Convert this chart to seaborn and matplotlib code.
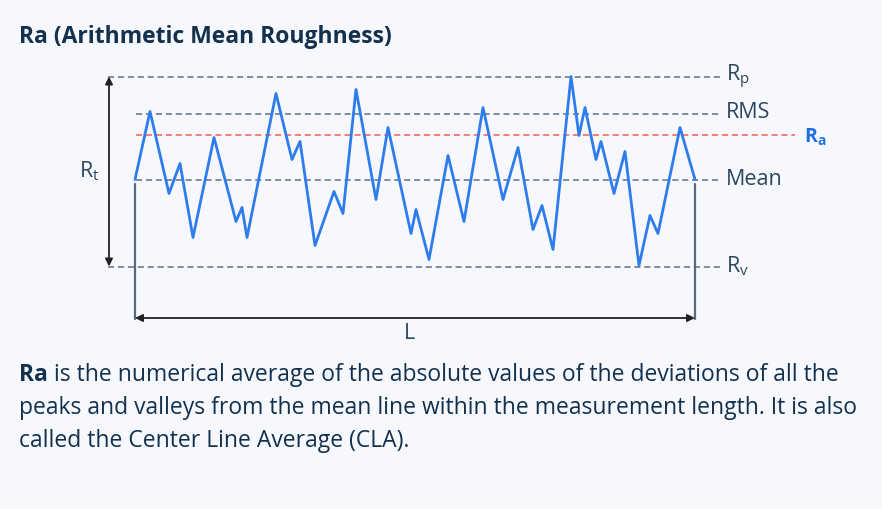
import matplotlib as mpl
mpl.use('Agg')
import matplotlib.pyplot as plt
import seaborn as sns

# surface profile: distance along the measurement length / height from the mean line
dist = [0, 15, 34, 45, 58, 79, 101, 107, 112, 141, 157, 165, 180, 199, 208,
        221, 241, 253, 276, 281, 294, 313, 329, 348, 368, 383, 398, 407, 418,
        436, 444, 450, 461, 466, 479, 490, 504, 515, 523, 545, 560]
height = [0, 68, -14, 16, -58, 42, -42, -28, -58, 86, 20, 38, -66, -12, -34,
          90, -20, 52, -54, -30, -80, 24, -42, 72, -20, 32, -50, -26, -70,
          103, 44, 72, 20, 38, -14, 28, -86, -36, -54, 52, 0]

level_rp = 103
level_rms = 66
level_ra = 45
level_mean = 0
level_rv = -87

title = 'Ra (Arithmetic Mean Roughness)'
body_bold = 'Ra'
body_lines = [' is the numerical average of the absolute values of the deviations of all the',
              'peaks and valleys from the mean line within the measurement length. It is also',
              'called the Center Line Average (CLA).']

bg = '#f6f8fd'
ink = '#13304d'
lbl = '#2c465e'
blue = '#2f7ced'
grey = '#5f7284'
red = '#f0614f'

sns.set_theme(style='white')
plt.rcParams['font.family'] = ['Open Sans', 'DejaVu Sans']
plt.rcParams['mathtext.fontset'] = 'custom'
plt.rcParams['mathtext.rm'] = 'Open Sans'

fig = plt.figure(figsize=(8.82, 5.09), dpi=100, facecolor=bg)
ax = fig.add_axes([0, 0, 1, 1])
ax.set_facecolor(bg)
ax.set_xlim(-135, 747)
ax.set_ylim(-329.5, 179.5)
ax.axis('off')

span = dist[-1]
dash = dict(lw=1.1, ls=(0, (4, 2.5)))
ax.plot([-27, 585], [level_rp, level_rp], color=grey, **dash)
ax.plot([1, 585], [level_rms, level_rms], color=grey, **dash)
ax.plot([1, 660], [level_ra, level_ra], color=red, **dash)
ax.plot([1, 585], [level_mean, level_mean], color=grey, **dash)
ax.plot([-27, 585], [level_rv, level_rv], color=grey, **dash)

sns.lineplot(x=dist, y=height, ax=ax, color=blue, lw=2, sort=False)

lab_fs = 15.5

# Rt arrow
ax.annotate('', xy=(-26, level_rp), xytext=(-26, level_rv),
            arrowprops=dict(arrowstyle='<|-|>', color='#222222', lw=1.3,
                            mutation_scale=11, shrinkA=0, shrinkB=0))
ax.text(-46, 8, r'$\mathregular{R_t}$', color=lbl, fontsize=lab_fs,
        ha='center', va='center')

# measurement length L
ax.plot([0, 0], [-4, -139], color='#56687a', lw=1.6)
ax.plot([span, span], [-4, -139], color='#56687a', lw=1.6)
ax.annotate('', xy=(0, -138.5), xytext=(span, -138.5),
            arrowprops=dict(arrowstyle='<|-|>', color='#222222', lw=1.3,
                            mutation_scale=11, shrinkA=0, shrinkB=0))
ax.text(span / 2 - 5, -154, 'L', color=lbl, fontsize=lab_fs, ha='center', va='center')

# right-hand labels
ax.text(591, level_rp, r'$\mathregular{R_p}$', color=lbl, fontsize=lab_fs, va='center')
ax.text(591, level_rms + 1, 'RMS', color=lbl, fontsize=lab_fs, va='center')
ax.text(591, level_mean, 'Mean', color=lbl, fontsize=lab_fs, va='center')
ax.text(591, level_rv, r'$\mathregular{R_v}$', color=lbl, fontsize=lab_fs, va='center')
ax.text(669, level_ra - 3, r'$\mathregular{R_a}$', color='#1f6fe0', fontsize=14,
        fontweight='bold', va='center')

fig.text(19 / 882, 1 - 37 / 509, title, color=ink, fontsize=16.5,
         fontweight='bold', va='center')

fig.canvas.draw()
rend = fig.canvas.get_renderer()
body_fs = 16.5
t0 = fig.text(19 / 882, 1 - 375 / 509, body_bold, color=ink, fontsize=body_fs,
              fontweight='bold', va='center')
w0 = t0.get_window_extent(rend).width
fig.text((19 + w0) / 882, 1 - 375 / 509, body_lines[0], color=ink,
         fontsize=body_fs, va='center')
fig.text(19 / 882, 1 - 408 / 509, body_lines[1], color=ink, fontsize=body_fs, va='center')
fig.text(19 / 882, 1 - 441 / 509, body_lines[2], color=ink, fontsize=body_fs, va='center')

fig.savefig('out.png', dpi=100, facecolor=bg)
